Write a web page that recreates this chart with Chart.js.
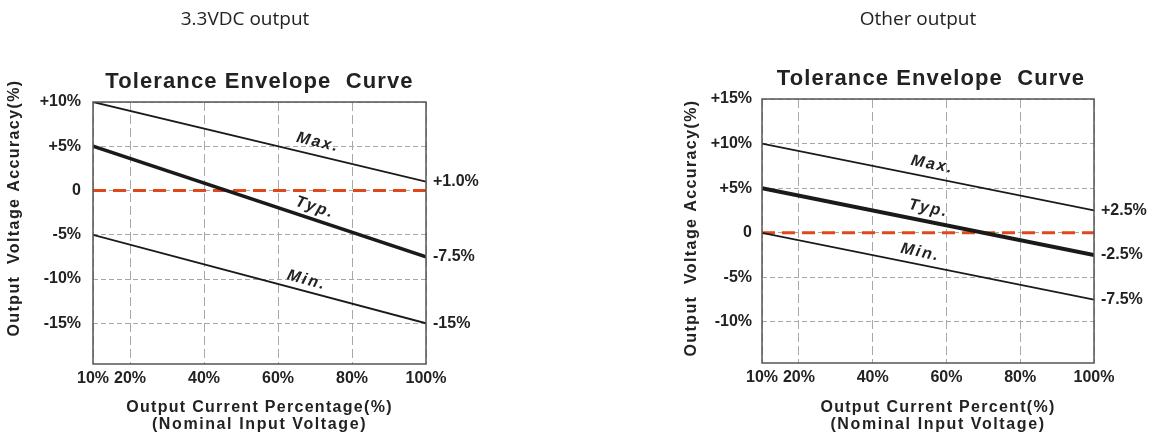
<!DOCTYPE html>
<html>
<head>
<meta charset="utf-8">
<script src="https://cdn.jsdelivr.net/npm/chart.js@4.4.1/dist/chart.umd.min.js"></script>
<style>
  html, body { margin: 0; padding: 0; background: #ffffff; }
  body { width: 1154px; height: 437px; position: relative; overflow: hidden; }
  .box { position: absolute; top: 0; width: 577px; height: 437px; }
  #boxL { left: 0; }
  #boxR { left: 577px; }
</style>
</head>
<body>
<div class="box" id="boxL"><canvas id="chartL" width="577" height="437"></canvas></div>
<div class="box" id="boxR"><canvas id="chartR" width="577" height="437"></canvas></div>
<script>
// ---------------- DATA ----------------
const xLoad = [10, 100];                      // output current percentage (%)
const xTickValues = [10, 20, 40, 60, 80, 100];
const xTickLabels = ['10%', '20%', '40%', '60%', '80%', '100%'];

// 3.3VDC output
const leftMax = [10, 1];
const leftTyp = [5, -7.5];
const leftMin = [-5, -15];
const leftZero = [0, 0];
const leftYTicks = [10, 5, 0, -5, -10, -15];
const leftYLabels = ['+10%', '+5%', '0', '-5%', '-10%', '-15%'];
const leftEndTicks = [1, -7.5, -15];
const leftEndLabels = ['+1.0%', '-7.5%', '-15%'];

// Other output
const rightMax = [10, 2.5];
const rightTyp = [5, -2.5];
const rightMin = [0, -7.5];
const rightZero = [0, 0];
const rightYTicks = [15, 10, 5, 0, -5, -10];
const rightYLabels = ['+15%', '+10%', '+5%', '0', '-5%', '-10%'];
const rightEndTicks = [2.5, -2.5, -7.5];
const rightEndLabels = ['+2.5%', '-2.5%', '-7.5%'];

const curveNames = ['Max.', 'Typ.', 'Min.'];

// ---------------- HELPERS ----------------
const FONT = '"Liberation Sans", Arial, sans-serif';
const INK = '#222222';

function pts(ys) { return xLoad.map((x, i) => ({ x: x, y: ys[i] })); }

function fixedTicks(values) {
  return function (scale) { scale.ticks = values.map(v => ({ value: v })); };
}
function labelFor(values, labels) {
  return function (v) { const i = values.indexOf(v); return i >= 0 ? labels[i] : ''; };
}

function drawSpaced(ctx, text, x, y, spacing) {
  ctx.letterSpacing = spacing + 'px';
  ctx.fillText(text, x, y);
  ctx.letterSpacing = '0px';
}

function makeChart(canvasId, cfg) {
  const textPlugin = {
    id: 'texts',
    afterDraw(chart) {
      const ctx = chart.ctx;
      const a = chart.chartArea;
      const xs = chart.scales.x, ys = chart.scales.y;
      ctx.save();
      // plot frame
      ctx.strokeStyle = '#555555';
      ctx.lineWidth = 1.5;
      ctx.strokeRect(a.left, a.top, a.right - a.left, a.bottom - a.top);

      ctx.fillStyle = INK;
      ctx.textAlign = 'center';
      ctx.textBaseline = 'middle';
      // page caption
      ctx.font = '19px "Open Sans", "Noto Sans", sans-serif';
      ctx.fillText(cfg.caption, cfg.captionX, 20);
      // chart title
      ctx.font = 'bold 22px ' + FONT;
      drawSpaced(ctx, cfg.title, (a.left + a.right) / 2 + cfg.titleDx, a.top - 20, 1.1);
      // x axis title
      ctx.font = 'bold 16px ' + FONT;
      const cx = (a.left + a.right) / 2 + cfg.xTitleDx;
      drawSpaced(ctx, cfg.xTitle[0], cx, 408, 1.3);
      drawSpaced(ctx, cfg.xTitle[1], cx, 425, 1.6);
      // y axis title (rotated)
      ctx.save();
      ctx.translate(cfg.yTitleX, cfg.yTitleY);
      ctx.rotate(-Math.PI / 2);
      ctx.font = 'bold 16px ' + FONT;
      drawSpaced(ctx, cfg.yTitle, 0, 0, 1.4);
      ctx.restore();

      // curve labels placed along their lines
      ctx.font = 'italic bold 16px ' + FONT;
      cfg.curves.forEach((c, i) => {
        const d = chart.data.datasets[i].data;
        const p0x = xs.getPixelForValue(d[0].x), p0y = ys.getPixelForValue(d[0].y);
        const p1x = xs.getPixelForValue(d[1].x), p1y = ys.getPixelForValue(d[1].y);
        const t = (c.at - d[0].x) / (d[1].x - d[0].x);
        const yv = d[0].y + t * (d[1].y - d[0].y);
        const px = xs.getPixelForValue(c.at);
        const py = ys.getPixelForValue(yv);
        const ang = Math.atan2(p1y - p0y, p1x - p0x);
        ctx.save();
        ctx.translate(px + Math.sin(ang) * c.off, py - Math.cos(ang) * c.off);
        ctx.rotate(ang);
        drawSpaced(ctx, curveNames[i], 0, 0, 2);
        ctx.restore();
      });
      ctx.restore();
    }
  };

  const gridColor = '#a8a8a8';
  return new Chart(document.getElementById(canvasId), {
    type: 'line',
    data: {
      datasets: [
        { label: 'Max', data: pts(cfg.max), borderColor: '#1a1a1a', borderWidth: 1.8 },
        { label: 'Typ', data: pts(cfg.typ), borderColor: '#1a1a1a', borderWidth: cfg.typWidth },
        { label: 'Min', data: pts(cfg.min), borderColor: '#1a1a1a', borderWidth: 1.8 },
        { label: 'Zero', data: pts(cfg.zero), borderColor: '#e0481c', borderWidth: 3, borderDash: [13, 7] }
      ]
    },
    options: {
      responsive: false,
      animation: false,
      devicePixelRatio: 1,
      events: [],
      elements: { point: { radius: 0 }, line: { tension: 0 } },
      layout: { padding: { left: 0, right: 0, top: cfg.top, bottom: 0 } },
      plugins: { legend: { display: false }, tooltip: { enabled: false }, title: { display: false } },
      scales: {
        x: {
          type: 'linear', min: 10, max: 100,
          afterBuildTicks: fixedTicks(xTickValues),
          afterFit(s) { s.height = cfg.xHeight; },
          ticks: {
            autoSkip: false, maxRotation: 0, padding: 5, color: INK,
            font: { family: FONT, size: 16, weight: 'bold' },
            callback: labelFor(xTickValues, xTickLabels)
          },
          grid: { color: gridColor, lineWidth: 1, drawTicks: false },
          border: { display: false, dash: [9, 4] }
        },
        y: {
          type: 'linear', position: 'left', min: cfg.yMin, max: cfg.yMax,
          afterBuildTicks: fixedTicks(cfg.yTicks),
          afterFit(s) { s.width = cfg.yWidth; },
          ticks: {
            autoSkip: false, padding: cfg.yPad, color: INK,
            font: { family: FONT, size: 16, weight: 'bold' },
            callback: labelFor(cfg.yTicks, cfg.yLabels)
          },
          grid: { color: gridColor, lineWidth: 1, drawTicks: false },
          border: { display: false, dash: [5, 3] }
        },
        y2: {
          type: 'linear', position: 'right', min: cfg.yMin, max: cfg.yMax,
          afterBuildTicks: fixedTicks(cfg.endTicks),
          afterFit(s) { s.width = cfg.y2Width; },
          ticks: {
            autoSkip: false, padding: 7, color: INK,
            font: { family: FONT, size: 16, weight: 'bold' },
            callback: labelFor(cfg.endTicks, cfg.endLabels)
          },
          grid: { display: false, drawTicks: false },
          border: { display: false }
        }
      }
    },
    plugins: [textPlugin]
  });
}

makeChart('chartL', {
  max: leftMax, typ: leftTyp, min: leftMin, zero: leftZero, typWidth: 3.5,
  yMin: -19.6, yMax: 10, yTicks: leftYTicks, yLabels: leftYLabels,
  endTicks: leftEndTicks, endLabels: leftEndLabels,
  top: 102, xHeight: 73, yWidth: 93, y2Width: 151, yPad: 12,
  caption: '3.3VDC output', captionX: 245,
  title: 'Tolerance Envelope  Curve', titleDx: 0,
  xTitle: ['Output Current Percentage(%)', '(Nominal Input Voltage)'], xTitleDx: 0,
  yTitle: 'Output  Voltage Accuracy(%)', yTitleX: 15, yTitleY: 208,
  curves: [ { at: 70, off: 13 }, { at: 69, off: 12 }, { at: 67, off: 11 } ]
});

makeChart('chartR', {
  max: rightMax, typ: rightTyp, min: rightMin, zero: rightZero, typWidth: 4,
  yMin: -14.6, yMax: 15, yTicks: rightYTicks, yLabels: rightYLabels,
  endTicks: rightEndTicks, endLabels: rightEndLabels,
  top: 99, xHeight: 74, yWidth: 185, y2Width: 60, yPad: 10,
  caption: 'Other output', captionX: 341,
  title: 'Tolerance Envelope  Curve', titleDx: 3,
  xTitle: ['Output Current Percent(%)', '(Nominal Input Voltage)'], xTitleDx: 10,
  yTitle: 'Output  Voltage Accuracy(%)', yTitleX: 115, yTitleY: 228,
  curves: [ { at: 55.5, off: 13 }, { at: 54.5, off: 13 }, { at: 52.3, off: 12 } ]
});
</script>
</body>
</html>
